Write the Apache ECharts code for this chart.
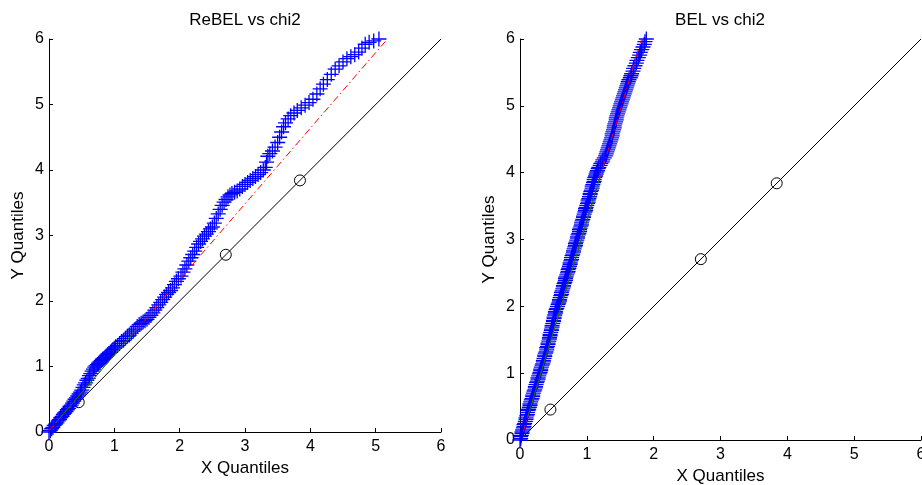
<!DOCTYPE html>
<html>
<head>
<meta charset="utf-8">
<script src="https://cdn.jsdelivr.net/npm/echarts@6/dist/echarts.min.js"></script>
<style>html,body{margin:0;padding:0;background:#fff}#c{width:922px;height:485px}</style>
</head>
<body>
<div id="c"></div>
<script>
// ---- data ----
const titles = ['ReBEL vs chi2', 'BEL vs chi2'];
const xName = 'X Quantiles';
const yName = 'Y Quantiles';

// Left panel QQ points
const leftX = [0.00,0.02,0.04,0.06,0.08,0.10,0.12,0.14,0.16,0.18,0.20,0.22,0.24,0.26,0.28,0.30,0.32,0.34,0.36,0.38,0.40,0.42,0.44,
  0.46,0.48,0.50,0.52,0.54,0.56,0.58,0.60,0.62,0.64,0.66,0.68,0.70,
  0.72,0.74,0.76,0.78,0.80,0.82,0.84,0.86,0.88,0.90,0.92,0.94,0.96,0.98,1.00,
  1.02,1.05,1.08,1.11,1.14,1.17,1.20,1.23,1.26,1.29,1.32,1.35,1.38,1.41,1.44,1.47,1.50,
  1.53,1.56,1.59,1.62,1.65,1.68,1.71,1.74,1.77,1.80,1.83,1.86,1.89,1.92,1.95,1.98,
  2.02,2.05,2.08,2.11,2.14,2.17,2.20,2.23,2.26,2.29,
  2.32,2.35,2.38,2.41,2.44,2.47,2.50,
  2.53,2.56,2.59,2.62,2.65,2.68,2.71,
  2.74,2.77,2.80,2.84,2.88,2.92,2.96,3.00,
  3.04,3.08,3.12,3.16,3.20,3.24,3.28,3.31,
  3.33,3.35,3.38,3.42,3.46,3.50,3.53,3.56,3.59,3.62,3.66,3.70,3.75,3.80,3.86,3.92,3.98,4.04,4.10,4.15,4.20,4.26,4.32,4.38,4.44,4.50,4.56,4.62,4.68,4.74,4.79,4.84,4.90,4.97,5.05];
const leftY = [0.00,0.02,0.05,0.07,0.10,0.12,0.14,0.17,0.19,0.22,0.24,0.27,0.29,0.31,0.34,0.36,0.39,0.41,0.44,0.47,0.50,0.52,0.55,
  0.58,0.61,0.64,0.68,0.72,0.75,0.79,0.82,0.86,0.89,0.93,0.96,0.99,
  1.01,1.03,1.05,1.07,1.09,1.11,1.12,1.14,1.16,1.18,1.20,1.22,1.24,1.26,1.28,
  1.30,1.32,1.35,1.38,1.40,1.43,1.46,1.48,1.51,1.54,1.57,1.61,1.64,1.66,1.68,1.70,1.72,
  1.75,1.78,1.82,1.86,1.90,1.94,1.98,2.02,2.06,2.10,2.13,2.16,2.20,2.25,2.30,2.34,
  2.38,2.44,2.49,2.55,2.61,2.66,2.71,2.76,2.82,2.87,
  2.91,2.95,2.99,3.02,3.06,3.10,3.13,
  3.19,3.26,3.33,3.40,3.46,3.51,3.55,
  3.59,3.62,3.64,3.66,3.68,3.71,3.75,3.78,
  3.81,3.84,3.87,3.90,3.93,3.96,4.00,4.04,
  4.12,4.21,4.25,4.29,4.35,4.42,4.50,4.58,4.66,4.72,4.78,4.83,4.87,4.91,4.95,4.99,5.03,5.08,5.16,5.24,5.31,5.38,5.46,5.54,5.59,5.65,5.70,5.73,5.76,5.80,5.86,5.92,5.95,5.97,6.00];

// Right panel QQ points
const rightX = [0.00,0.01,0.01,0.02,0.03,0.03,0.04,0.05,0.06,0.06,0.07,0.08,0.09,0.09,0.10,0.11,0.11,0.12,0.13,0.14,
  0.15,0.15,0.16,0.17,0.18,0.19,0.19,0.20,0.21,0.22,0.23,0.23,0.24,0.25,0.26,0.27,0.27,0.28,0.29,
  0.30,0.31,0.31,0.32,0.33,0.34,0.35,0.35,0.36,0.37,0.37,0.38,0.39,0.40,0.40,0.41,0.42,0.42,0.43,
  0.44,0.44,0.45,0.45,0.46,0.47,0.47,0.48,0.48,0.49,0.50,0.50,0.51,0.51,0.52,0.53,0.53,0.54,0.55,
  0.56,0.57,0.58,0.59,0.59,0.60,0.61,0.62,0.62,0.63,0.64,0.65,0.65,0.66,0.67,0.68,0.68,0.69,0.70,
  0.71,0.72,0.72,0.73,0.74,0.75,0.75,0.76,0.77,0.77,0.78,0.79,0.80,0.80,0.81,0.82,0.83,0.83,0.84,0.85,
  0.86,0.86,0.87,0.88,0.89,0.89,0.90,0.91,0.92,0.92,0.93,0.94,0.95,0.95,0.96,0.97,0.98,0.98,0.99,
  1.00,1.01,1.02,1.02,1.03,1.04,1.05,1.05,1.06,1.07,1.08,1.08,1.09,1.10,1.11,1.11,1.12,1.13,1.14,
  1.15,1.16,1.17,1.18,1.20,1.21,1.23,1.24,1.26,1.28,1.29,1.30,1.31,1.32,1.33,1.34,1.35,1.36,
  1.37,1.38,1.38,1.39,1.40,1.41,1.41,1.42,1.43,1.44,1.44,1.45,1.46,1.47,1.48,1.49,1.50,
  1.51,1.52,1.53,1.54,1.55,1.56,1.57,1.58,1.59,1.60,1.61,1.62,1.63,1.65,1.66,1.67,
  1.69,1.70,1.72,1.74,1.75,1.77,1.79,1.80,1.82,1.84,1.86,1.87,1.89,1.91];
const rightY = [0.00,0.02,0.05,0.07,0.10,0.12,0.15,0.18,0.20,0.23,0.25,0.28,0.31,0.33,0.36,0.38,0.41,0.44,0.46,0.49,
  0.52,0.54,0.57,0.60,0.62,0.65,0.67,0.70,0.73,0.75,0.78,0.80,0.83,0.86,0.88,0.91,0.93,0.96,0.99,
  1.01,1.04,1.06,1.09,1.12,1.14,1.17,1.19,1.22,1.25,1.27,1.30,1.32,1.35,1.38,1.40,1.43,1.45,1.48,
  1.51,1.53,1.56,1.58,1.61,1.64,1.66,1.69,1.71,1.74,1.77,1.79,1.82,1.84,1.87,1.90,1.92,1.95,1.97,
  2.00,2.03,2.05,2.08,2.10,2.13,2.16,2.18,2.21,2.23,2.26,2.29,2.31,2.34,2.36,2.39,2.42,2.44,2.47,
  2.50,2.52,2.55,2.57,2.60,2.63,2.65,2.68,2.70,2.73,2.76,2.78,2.81,2.83,2.86,2.89,2.91,2.94,2.96,2.99,
  3.02,3.04,3.07,3.09,3.12,3.15,3.17,3.20,3.22,3.25,3.28,3.30,3.33,3.35,3.38,3.41,3.43,3.46,3.48,
  3.51,3.54,3.56,3.59,3.61,3.64,3.67,3.69,3.72,3.74,3.77,3.80,3.82,3.85,3.87,3.90,3.93,3.95,3.98,
  4.01,4.03,4.06,4.08,4.11,4.14,4.16,4.19,4.22,4.25,4.28,4.31,4.34,4.37,4.40,4.43,4.46,4.49,
  4.52,4.55,4.58,4.61,4.64,4.67,4.70,4.73,4.76,4.79,4.82,4.85,4.88,4.91,4.94,4.97,5.00,
  5.03,5.06,5.09,5.12,5.15,5.18,5.21,5.24,5.27,5.30,5.33,5.36,5.39,5.42,5.45,5.48,
  5.52,5.56,5.60,5.64,5.68,5.72,5.76,5.80,5.84,5.88,5.92,5.96,6.00,6.02];

// Reference line y = x with chi2 quantile markers
const refLine = [0, 6];
const refMarks = [0.455, 2.706, 3.841];

// Fitted lines (dash-dot) and inter-quartile segments (solid)
const leftFitX = [0.0, 5.18];
const leftFitY = [0.02, 6.0];
const leftQuartX = [0.1015, 1.3233];
const leftQuartY = [0.14, 1.55];
const rightFitX = [0.05, 1.82];
const rightFitY = [0.125, 6.0];
const rightQuartX = [0.12, 1.2];
const rightQuartY = [0.36, 3.94];

// ---- chart ----
const zip = (a, b) => a.map((v, i) => [v, b[i]]);
const font = '"Liberation Sans", Arial, sans-serif';
const plus = 'path://M0,5L10,5M5,0L5,10';

function xAxis(gi) {
  return {
    gridIndex: gi, type: 'value', min: 0, max: 6, interval: 1,
    name: xName, nameLocation: 'middle', nameGap: 26,
    nameTextStyle: { fontFamily: font, fontSize: 17, color: '#000' },
    axisLine: { onZero: false, lineStyle: { color: '#000', width: 1 } },
    axisTick: { inside: true, length: 4, lineStyle: { color: '#000' } },
    axisLabel: { fontFamily: font, fontSize: 16, color: '#000', margin: 7, hideOverlap: false },
    splitLine: { show: false }
  };
}
function yAxis(gi) {
  return {
    gridIndex: gi, type: 'value', min: 0, max: 6, interval: 1,
    name: yName, nameLocation: 'middle', nameGap: 22,
    nameTextStyle: { fontFamily: font, fontSize: 17, color: '#000' },
    axisLine: { onZero: false, lineStyle: { color: '#000', width: 1 } },
    axisTick: { inside: true, length: 4, lineStyle: { color: '#000' } },
    axisLabel: { fontFamily: font, fontSize: 16, color: '#000', margin: 5, hideOverlap: false },
    splitLine: { show: false }
  };
}
function panel(gi, qx, qy, fx, fy, gx, gy) {
  return [
    { type: 'line', xAxisIndex: gi, yAxisIndex: gi, data: zip(refLine, refLine),
      showSymbol: false, silent: true, lineStyle: { color: '#000', width: 1 }, z: 2 },
    { type: 'scatter', xAxisIndex: gi, yAxisIndex: gi, data: zip(refMarks, refMarks),
      symbol: 'circle', symbolSize: 11,
      itemStyle: { color: 'rgba(0,0,0,0)', borderColor: '#000', borderWidth: 1, opacity: 1 }, z: 3 },
    { type: 'scatter', xAxisIndex: gi, yAxisIndex: gi, data: zip(qx, qy),
      symbol: plus, symbolSize: 15, large: false,
      itemStyle: { color: 'rgba(0,0,0,0)', borderColor: '#0000ff', borderWidth: 1.3, opacity: 1 }, z: 4 },
    { type: 'line', xAxisIndex: gi, yAxisIndex: gi, data: zip(fx, fy),
      showSymbol: false, silent: true,
      lineStyle: { color: '#ff0000', width: 1, type: [7, 3, 1.5, 3] }, z: 5 },
    { type: 'line', xAxisIndex: gi, yAxisIndex: gi, data: zip(gx, gy),
      showSymbol: false, silent: true, lineStyle: { color: '#008000', width: 1 }, z: 6 }
  ];
}

const chart = echarts.init(document.getElementById('c'), null, { renderer: 'canvas' });
chart.setOption({
  animation: false,
  backgroundColor: '#fff',
  graphic: [
    { type: 'text', x: 245, y: 12, style: { text: titles[0], font: '17px ' + font, fill: '#000', textAlign: 'center' } },
    { type: 'text', x: 720, y: 12, style: { text: titles[1], font: '17px ' + font, fill: '#000', textAlign: 'center' } }
  ],
  grid: [
    { left: 49, right: 481, top: 39, bottom: 53, containLabel: false, outerBoundsMode: 'none' },
    { left: 520, right: 1, top: 39, bottom: 45, containLabel: false, outerBoundsMode: 'none' }
  ],
  xAxis: [xAxis(0), xAxis(1)],
  yAxis: [yAxis(0), yAxis(1)],
  series: [
    ...panel(0, leftX, leftY, leftFitX, leftFitY, leftQuartX, leftQuartY),
    ...panel(1, rightX, rightY, rightFitX, rightFitY, rightQuartX, rightQuartY)
  ]
});
</script>
</body>
</html>
